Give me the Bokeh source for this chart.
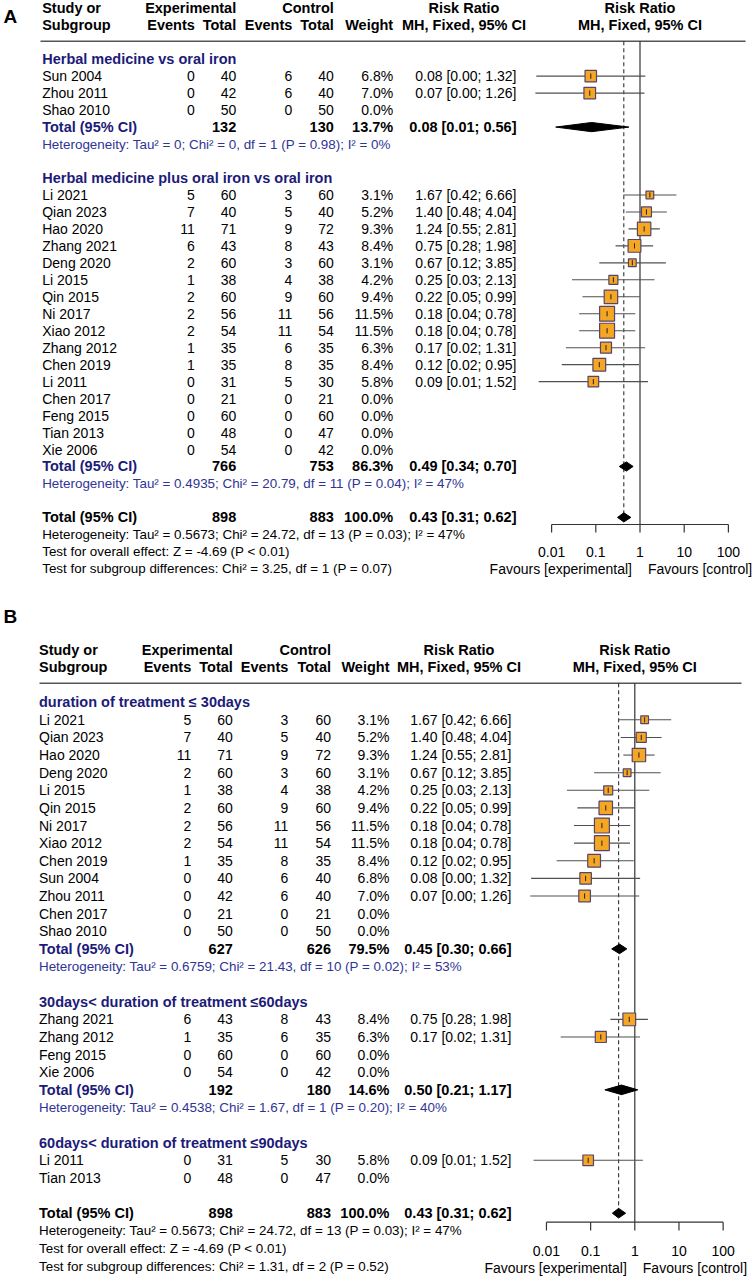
import math
from collections import OrderedDict
from bokeh.plotting import figure
from bokeh.models import Range1d, LogScale, ColumnDataSource
from bokeh.core.properties import value
from bokeh.embed import file_html
from bokeh.resources import INLINE

# ---------------- data ----------------
study      = ["Sun 2004", "Zhou 2011", "Shao 2010", "Li 2021", "Qian 2023", "Hao 2020", "Zhang 2021",
              "Deng 2020", "Li 2015", "Qin 2015", "Ni 2017", "Xiao 2012", "Zhang 2012", "Chen 2019",
              "Li 2011", "Chen 2017", "Feng 2015", "Tian 2013", "Xie 2006"]
exp_events = [0, 0, 0, 5, 7, 11, 6, 2, 1, 2, 2, 2, 1, 1, 0, 0, 0, 0, 0]
exp_total  = [40, 42, 50, 60, 40, 71, 43, 60, 38, 60, 56, 54, 35, 35, 31, 21, 60, 48, 54]
ctl_events = [6, 6, 0, 3, 5, 9, 8, 3, 4, 9, 11, 11, 6, 8, 5, 0, 0, 0, 0]
ctl_total  = [40, 40, 50, 60, 40, 72, 43, 60, 38, 60, 56, 54, 35, 35, 30, 21, 60, 47, 42]
weight     = [6.8, 7.0, 0.0, 3.1, 5.2, 9.3, 8.4, 3.1, 4.2, 9.4, 11.5, 11.5, 6.3, 8.4, 5.8, 0.0, 0.0, 0.0, 0.0]
rr         = [0.077, 0.073, None, 1.67, 1.40, 1.24, 0.75, 0.67, 0.25, 0.22, 0.18, 0.18, 0.17, 0.12, 0.088,
              None, None, None, None]
rr_lo      = [0.0045, 0.0043, None, 0.42, 0.48, 0.55, 0.28, 0.12, 0.029, 0.05, 0.042, 0.042, 0.021, 0.017,
              0.0051, None, None, None, None]
rr_hi      = [1.32, 1.26, None, 6.66, 4.04, 2.81, 1.98, 3.85, 2.13, 0.99, 0.78, 0.78, 1.31, 0.95, 1.52,
              None, None, None, None]

A_titles  = ["Herbal medicine vs oral iron", "Herbal medicine plus oral iron vs oral iron"]
A_members = [["Sun 2004", "Zhou 2011", "Shao 2010"],
             ["Li 2021", "Qian 2023", "Hao 2020", "Zhang 2021", "Deng 2020", "Li 2015", "Qin 2015", "Ni 2017",
              "Xiao 2012", "Zhang 2012", "Chen 2019", "Li 2011", "Chen 2017", "Feng 2015", "Tian 2013", "Xie 2006"]]
A_sub_exp = [132, 766]
A_sub_ctl = [130, 753]
A_sub_w   = [13.7, 86.3]
A_sub_rr  = [0.08, 0.49]
A_sub_lo  = [0.0124, 0.34]
A_sub_hi  = [0.56, 0.70]
A_sub_het = ["Heterogeneity: Tau² = 0; Chi² = 0, df = 1 (P = 0.98); I² = 0%",
             "Heterogeneity: Tau² = 0.4935; Chi² = 20.79, df = 11 (P = 0.04); I² = 47%"]
A_subtest = "Test for subgroup differences: Chi² = 3.25, df = 1 (P = 0.07)"

B_titles  = ["duration of treatment ≤ 30days", "30days< duration of treatment ≤60days",
             "60days< duration of treatment ≤90days"]
B_members = [["Li 2021", "Qian 2023", "Hao 2020", "Deng 2020", "Li 2015", "Qin 2015", "Ni 2017", "Xiao 2012",
              "Chen 2019", "Sun 2004", "Zhou 2011", "Chen 2017", "Shao 2010"],
             ["Zhang 2021", "Zhang 2012", "Feng 2015", "Xie 2006"],
             ["Li 2011", "Tian 2013"]]
B_sub_exp = [627, 192, None]
B_sub_ctl = [626, 180, None]
B_sub_w   = [79.5, 14.6, None]
B_sub_rr  = [0.45, 0.50, None]
B_sub_lo  = [0.30, 0.21, None]
B_sub_hi  = [0.66, 1.17, None]
B_sub_het = ["Heterogeneity: Tau² = 0.6759; Chi² = 21.43, df = 10 (P = 0.02); I² = 53%",
             "Heterogeneity: Tau² = 0.4538; Chi² = 1.67, df = 1 (P = 0.20); I² = 40%", None]
B_subtest = "Test for subgroup differences: Chi² = 1.31, df = 2 (P = 0.52)"

overall_exp = 898
overall_ctl = 883
overall_w   = 100.0
overall_rr  = [0.43, 0.31, 0.62]
overall_het = "Heterogeneity: Tau² = 0.5673; Chi² = 24.72, df = 13 (P = 0.03); I² = 47%"
overall_z   = "Test for overall effect: Z = -4.69 (P < 0.01)"

axis_ticks  = [0.01, 0.1, 1, 10, 100]
axis_labels = ["0.01", "0.1", "1", "10", "100"]
fav_left    = "Favours [experimental]"
fav_right   = "Favours [control]"

# ---------------- layout ----------------
FONT = "Liberation Sans"
W_REF, H_REF = 754, 1277
NAVY = "#1b1b78"
HETBLUE = "#2f3496"
ORANGE = "#F5A623"
BOXLINE = "#55456A"
CIGREY = "#505050"

LA = dict(lab="A", lab_x=3, lab_y=16, h1=7.5, h2=24.5, hline=40.7, hx0=40, hx1=745,
          y0=58.7, dy=16.97, xn=41.7, xee=194.3, xen=235.7, xce=291.8, xcn=333.3, xw=392.7, xrr=516,
          x1=639.5, dec=44.2, axis_y=524, tick=8, tick_lab_y=551.5, fav_y=568.5, rng="fA", dh=4.6)
LB = dict(lab="B", lab_x=3, lab_y=616, h1=649.3, h2=666.7, hline=682.7, hx0=39, hx1=741,
          y0=701.7, dy=17.62, xn=38.5, xee=190.7, xen=232.3, xce=287.8, xcn=330.5, xw=389, xrr=511,
          x1=634.3, dec=44.17, axis_y=1221.7, tick=8.3, tick_lab_y=1250, fav_y=1267, rng="fB", dh=4.8)

p = figure(width=W_REF, height=H_REF, x_range=Range1d(0, W_REF), y_range=Range1d(H_REF, 0),
           output_backend="svg", toolbar_location=None, x_axis_type=None, y_axis_type=None,
           min_border=0, outline_line_color=None)
p.background_fill_color = "white"
p.extra_x_ranges = {L["rng"]: Range1d(10 ** (-L["x1"] / L["dec"]), 10 ** ((W_REF - L["x1"]) / L["dec"]))
                    for L in (LA, LB)}
p.extra_x_scales = {"fA": LogScale(), "fB": LogScale()}

STY = {"reg": ("normal", "#000000", "14px"),
       "regs": ("normal", "#000000", "13.4px"),
       "bold": ("bold", "#000000", "14.5px"),
       "navyb": ("bold", NAVY, "14.5px"),
       "navy": ("normal", HETBLUE, "13.4px"),
       "lab": ("bold", "#000000", "19px")}
T = OrderedDict()


def put(style, align, x, y, s, rng="default"):
    d = T.setdefault((style, align, rng), {"x": [], "y": [], "text": []})
    d["x"].append(x)
    d["y"].append(y)
    d["text"].append(s)


def fmt(a, b, c):
    return f"{a:.2f} [{b:.2f}; {c:.2f}]"


def panel(L, titles, members, se, sc, sw, srr, slo, shi, shet, subtest):
    rng = L["rng"]
    Y = lambda k: L["y0"] + k * L["dy"]
    put("lab", "left", L["lab_x"], L["lab_y"], L["lab"])
    rrc = L["xrr"] - 52.5
    put("bold", "left", L["xn"], L["h1"], "Study or")
    put("bold", "left", L["xn"], L["h2"], "Subgroup")
    put("bold", "right", L["xen"], L["h1"], "Experimental")
    put("bold", "right", L["xcn"], L["h1"], "Control")
    for x, s in [(L["xee"], "Events"), (L["xen"], "Total"), (L["xce"], "Events"), (L["xcn"], "Total"),
                 (L["xw"], "Weight")]:
        put("bold", "right", x, L["h2"], s)
    put("bold", "center", rrc, L["h1"], "Risk Ratio")
    put("bold", "center", rrc, L["h2"], "MH, Fixed, 95% CI")
    put("bold", "center", 1, L["h1"], "Risk Ratio", rng)
    put("bold", "center", 1, L["h2"], "MH, Fixed, 95% CI", rng)
    p.segment(x0=[L["hx0"]], y0=[L["hline"]], x1=[L["hx1"]], y1=[L["hline"]], line_color="#555555",
              line_width=1.6)

    ci = {"x0": [], "x1": [], "y": []}
    bx = {"x": [], "y": [], "s": [], "t0": [], "t1": []}
    dxs, dys = [], []
    k = 0
    for g, title in enumerate(titles):
        put("navyb", "left", L["xn"], Y(k), title)
        k += 1
        for name in members[g]:
            i = study.index(name)
            y = Y(k)
            put("reg", "left", L["xn"], y, name)
            put("reg", "right", L["xee"], y, str(exp_events[i]))
            put("reg", "right", L["xen"], y, str(exp_total[i]))
            put("reg", "right", L["xce"], y, str(ctl_events[i]))
            put("reg", "right", L["xcn"], y, str(ctl_total[i]))
            put("reg", "right", L["xw"], y, f"{weight[i]:.1f}%")
            if rr[i] is not None:
                put("reg", "right", L["xrr"], y, fmt(rr[i], rr_lo[i], rr_hi[i]))
                ci["x0"].append(rr_lo[i]); ci["x1"].append(rr_hi[i]); ci["y"].append(y)
                bx["x"].append(rr[i]); bx["y"].append(y); bx["s"].append(4.4 * math.sqrt(weight[i]))
                bx["t0"].append(y - 2.6); bx["t1"].append(y + 2.6)
            k += 1
        if se[g] is not None:
            y = Y(k)
            put("navyb", "left", L["xn"], y, "Total (95% CI)")
            put("bold", "right", L["xen"], y, str(se[g]))
            put("bold", "right", L["xcn"], y, str(sc[g]))
            put("bold", "right", L["xw"], y, f"{sw[g]:.1f}%")
            put("bold", "right", L["xrr"], y, fmt(srr[g], slo[g], shi[g]))
            dxs.append([slo[g], srr[g], shi[g], srr[g]])
            dys.append([y, y - L["dh"], y, y + L["dh"]])
            k += 1
            put("navy", "left", L["xn"], Y(k), shet[g])
            k += 1
        k += 1
    y_tot = Y(k)
    put("bold", "left", L["xn"], y_tot, "Total (95% CI)")
    put("bold", "right", L["xen"], y_tot, str(overall_exp))
    put("bold", "right", L["xcn"], y_tot, str(overall_ctl))
    put("bold", "right", L["xw"], y_tot, f"{overall_w:.1f}%")
    put("bold", "right", L["xrr"], y_tot, fmt(*overall_rr))
    dxs.append([overall_rr[1], overall_rr[0], overall_rr[2], overall_rr[0]])
    dys.append([y_tot, y_tot - L["dh"], y_tot, y_tot + L["dh"]])
    put("regs", "left", L["xn"], Y(k + 1), overall_het)
    put("regs", "left", L["xn"], Y(k + 2), overall_z)
    put("regs", "left", L["xn"], Y(k + 3), subtest)

    # reference lines
    p.segment(x0=[1], y0=[L["hline"]], x1=[1], y1=[L["axis_y"]], x_range_name=rng,
              line_color="#333333", line_width=1.2)
    p.segment(x0=[overall_rr[0]], y0=[L["hline"]], x1=[overall_rr[0]], y1=[y_tot], x_range_name=rng,
              line_color="#333333", line_width=1.1, line_dash="4 3")
    # CIs and boxes
    p.segment(x0="x0", y0="y", x1="x1", y1="y", source=ColumnDataSource(ci), x_range_name=rng,
              line_color=CIGREY, line_width=1.1)
    src = ColumnDataSource(bx)
    p.rect(x="x", y="y", width="s", height="s", width_units="screen", height_units="screen", source=src,
           x_range_name=rng, fill_color=ORANGE, line_color=BOXLINE, line_width=1.2)
    p.segment(x0="x", y0="t0", x1="x", y1="t1", source=src, x_range_name=rng, line_color="#222222",
              line_width=1)
    p.patches(xs=dxs, ys=dys, x_range_name=rng, fill_color="black", line_color="black", line_width=1)
    # axis
    ay = L["axis_y"]
    p.segment(x0=[axis_ticks[0]], y0=[ay], x1=[axis_ticks[-1]], y1=[ay], x_range_name=rng,
              line_color="#333333", line_width=1.2)
    p.segment(x0=axis_ticks, y0=[ay] * len(axis_ticks), x1=axis_ticks, y1=[ay + L["tick"]] * len(axis_ticks),
              x_range_name=rng, line_color="#333333", line_width=1.2)
    for t, lab in zip(axis_ticks, axis_labels):
        put("reg", "center", t, L["tick_lab_y"], lab, rng)
    put("reg", "right", 1, L["fav_y"], fav_left, rng + "_l")
    put("reg", "left", 1, L["fav_y"], fav_right, rng + "_r")


panel(LA, A_titles, A_members, A_sub_exp, A_sub_ctl, A_sub_w, A_sub_rr, A_sub_lo, A_sub_hi, A_sub_het, A_subtest)
panel(LB, B_titles, B_members, B_sub_exp, B_sub_ctl, B_sub_w, B_sub_rr, B_sub_lo, B_sub_hi, B_sub_het, B_subtest)

for (style, align, rng), d in T.items():
    fs, col, size = STY[style]
    kw = {}
    xoff = 0
    if rng != "default":
        base = rng.split("_")[0]
        kw["x_range_name"] = base
        if rng.endswith("_l"):
            xoff = -8
        elif rng.endswith("_r"):
            xoff = 8
    p.text(x="x", y="y", text="text", source=ColumnDataSource(d), text_align=align, text_baseline="middle",
           text_font=value(FONT), text_font_style=fs, text_color=col, text_font_size=size, x_offset=xoff, **kw)

open("out.html", "w").write(file_html(p, INLINE))
